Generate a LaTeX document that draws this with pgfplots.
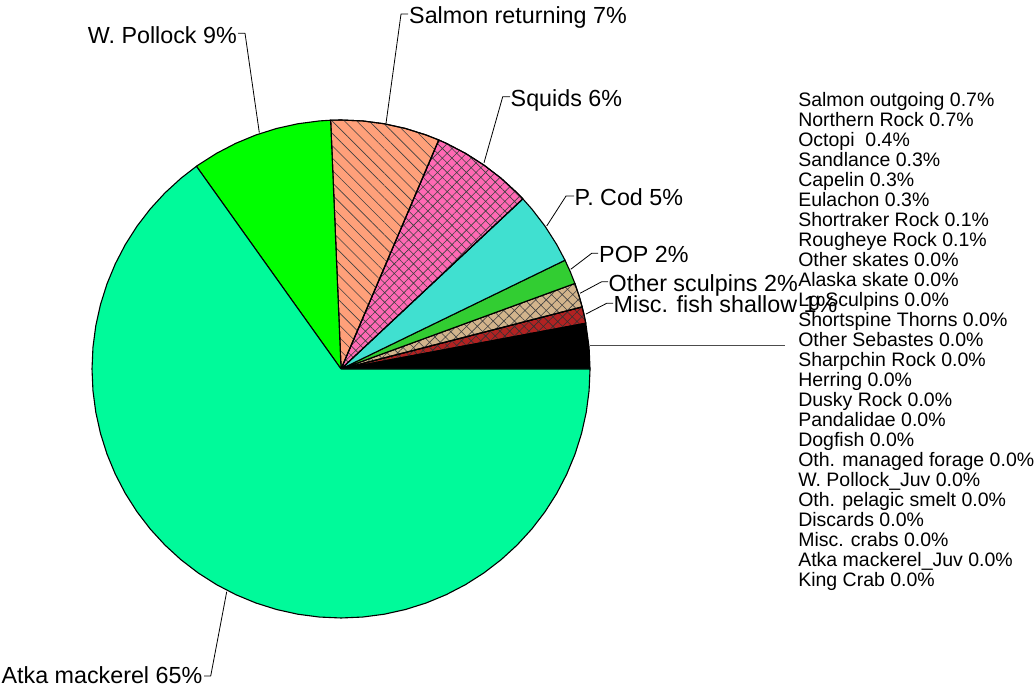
\documentclass[border=0pt]{standalone}
\usepackage{pgfplots}
\pgfplotsset{compat=1.18}
\usepackage{fontspec}
\setmainfont{Liberation Sans}
\usetikzlibrary{patterns.meta}
\definecolor{atka}{RGB}{0,250,154}
\definecolor{pollock}{RGB}{0,255,0}
\definecolor{salmonret}{RGB}{255,160,122}
\definecolor{squids}{RGB}{255,105,180}
\definecolor{pcod}{RGB}{64,224,208}
\definecolor{pop}{RGB}{50,205,50}
\definecolor{sculp}{RGB}{210,180,140}
\definecolor{miscfish}{RGB}{178,34,34}
\begin{document}
\begin{tikzpicture}
\begin{axis}[
  scale only axis, width=1034pt, height=687pt,
  xmin=-341, xmax=693, ymin=-318, ymax=369,
  hide axis, clip=false,
  every axis plot/.append style={line width=1.1pt, line join=round},
]
% wedges: (angle in degrees, radius), counter-clockwise from east
\addplot[data cs=polar, draw=black, fill=black] coordinates {(0,0) (0,249) (5,249) (10.6,249) (0,0)};
\addplot[data cs=polar, draw=black, fill=miscfish, postaction={pattern={Hatch[angle=45,distance=6.8pt,line width=0.6pt]}, pattern color=black!80}] coordinates {(0,0) (10.6,249) (12.5,249) (14.45,249) (0,0)};
\addplot[data cs=polar, draw=black, fill=sculp, postaction={pattern={Hatch[angle=45,distance=7.5pt,line width=0.6pt]}, pattern color=black!75}] coordinates {(0,0) (14.45,249) (17,249) (20.1,249) (0,0)};
\addplot[data cs=polar, draw=black, fill=pop] coordinates {(0,0) (20.1,249) (23,249) (25.9,249) (0,0)};
\addplot[data cs=polar, draw=black, fill=pcod] coordinates {(0,0) (25.9,249) (30,249) (35,249) (40,249) (43.1,249) (0,0)};
\addplot[data cs=polar, draw=black, fill=squids, postaction={pattern={Hatch[angle=45,distance=6.8pt,line width=0.6pt]}, pattern color=black!75}] coordinates {(0,0) (43.1,249) (45,249) (50,249) (55,249) (60,249) (65,249) (66.9,249) (0,0)};
\addplot[data cs=polar, draw=black, fill=salmonret, postaction={pattern={Lines[angle=-45,distance=8.7pt,line width=0.6pt]}, pattern color=black!75}] coordinates {(0,0) (66.9,249) (70,249) (75,249) (80,249) (85,249) (90,249) (92.4,249) (0,0)};
\addplot[data cs=polar, draw=black, fill=pollock] coordinates {(0,0) (92.4,249) (95,249) (100,249) (105,249) (110,249) (115,249) (120,249) (125,249) (125.5,249) (0,0)};
\addplot[data cs=polar, draw=black, fill=atka] coordinates {(0,0) (125.5,249) (130,249) (135,249) (140,249) (145,249) (150,249) (155,249) (160,249) (165,249) (170,249) (175,249) (180,249) (185,249) (190,249) (195,249) (200,249) (205,249) (210,249) (215,249) (220,249) (225,249) (230,249) (235,249) (240,249) (245,249) (250,249) (255,249) (260,249) (265,249) (270,249) (275,249) (280,249) (285,249) (290,249) (295,249) (300,249) (305,249) (310,249) (315,249) (320,249) (325,249) (330,249) (335,249) (340,249) (345,249) (350,249) (355,249) (360,249) (0,0)};
% leader lines
\addplot[black, line width=0.8pt] coordinates {(-81.7,236.3) (-96,335.7) (-103,335.7)};
\addplot[black, line width=0.8pt] coordinates {(45,245.7) (60,355) (67,355)};
\addplot[black, line width=0.8pt] coordinates {(143,206.3) (161.7,272.3) (169,272.3)};
\addplot[black, line width=0.8pt] coordinates {(205.7,143) (225,173) (233,173)};
\addplot[black, line width=0.8pt] coordinates {(229.7,99.7) (250.7,115.7) (257,115.7)};
\addplot[black, line width=0.8pt] coordinates {(239,75.7) (260.7,87.3) (267,87.3)};
\addplot[black, line width=0.8pt] coordinates {(245,55) (265.7,65.7) (272,65.7)};
\addplot[black!70, line width=0.9pt] coordinates {(249,24) (444,24)};
\addplot[black, line width=0.8pt] coordinates {(-114.3,-222.7) (-130.3,-307) (-137,-307)};
% big labels
\begin{scope}[every node/.style={font=\fontsize{23.3}{28}\selectfont, inner sep=0pt}]
\node[anchor=base east] at (axis cs:-104,325.7) {W. Pollock 9\%};
\node[anchor=base west] at (axis cs:68,345.7) {Salmon returning 7\%};
\node[anchor=base west] at (axis cs:169.5,262.8) {Squids 6\%};
\node[anchor=base west] at (axis cs:233.5,163.5) {P. Cod 5\%};
\node[anchor=base west] at (axis cs:258,106.2) {POP 2\%};
\node[anchor=base west] at (axis cs:267.5,77.8) {Other sculpins 2\%};
\node[anchor=base west] at (axis cs:272.5,56.2) {Misc. fish shallow 1\%};
\node[anchor=base east] at (axis cs:-138.5,-314.3) {Atka mackerel 65\%};
\end{scope}
% small list
\begin{scope}[every node/.style={font=\fontsize{19.5}{20}\selectfont, inner sep=0pt, anchor=base west}]
\node at (axis cs:457,262.3) {Salmon outgoing 0.7\%};
\node at (axis cs:457,242.3) {Northern Rock 0.7\%};
\node at (axis cs:457,222.3) {Octopi\ \ 0.4\%};
\node at (axis cs:457,202.3) {Sandlance 0.3\%};
\node at (axis cs:457,182.3) {Capelin 0.3\%};
\node at (axis cs:457,162.3) {Eulachon 0.3\%};
\node at (axis cs:457,142.3) {Shortraker Rock 0.1\%};
\node at (axis cs:457,122.3) {Rougheye Rock 0.1\%};
\node at (axis cs:457,102.3) {Other skates 0.0\%};
\node at (axis cs:457,82.3) {Alaska skate 0.0\%};
\node at (axis cs:457,62.3) {Lg Sculpins 0.0\%};
\node at (axis cs:457,42.3) {Shortspine Thorns 0.0\%};
\node at (axis cs:457,22.3) {Other Sebastes 0.0\%};
\node at (axis cs:457,2.3) {Sharpchin Rock 0.0\%};
\node at (axis cs:457,-17.7) {Herring 0.0\%};
\node at (axis cs:457,-37.7) {Dusky Rock 0.0\%};
\node at (axis cs:457,-57.7) {Pandalidae 0.0\%};
\node at (axis cs:457,-77.7) {Dogfish 0.0\%};
\node at (axis cs:457,-97.7) {Oth. managed forage 0.0\%};
\node at (axis cs:457,-117.7) {W. Pollock\_Juv 0.0\%};
\node at (axis cs:457,-137.7) {Oth. pelagic smelt 0.0\%};
\node at (axis cs:457,-157.7) {Discards 0.0\%};
\node at (axis cs:457,-177.7) {Misc. crabs 0.0\%};
\node at (axis cs:457,-197.7) {Atka mackerel\_Juv 0.0\%};
\node at (axis cs:457,-217.7) {King Crab 0.0\%};
\end{scope}
\end{axis}
\pgfresetboundingbox
\path (0,0) rectangle (1034pt,687pt);
\end{tikzpicture}
\end{document}
